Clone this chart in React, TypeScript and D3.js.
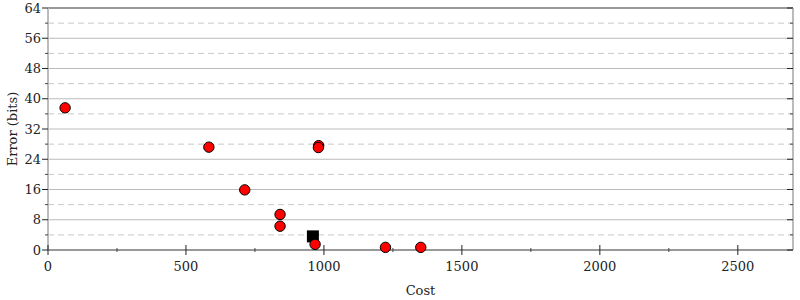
import React, { useEffect } from "react";
import * as d3 from "d3";

const costs = [62, 583, 981, 980, 713, 841, 841, 968, 1223, 1351];
const errors = [37.6, 27.2, 27.6, 27.1, 15.9, 9.4, 6.3, 1.5, 0.7, 0.7];
const bestCost = [960];
const bestError = [3.6];
const xTicks = [0, 500, 1000, 1500, 2000, 2500];
const xMinorTicks = [250, 750, 1250, 1750, 2250];
const yTicks = [0, 8, 16, 24, 32, 40, 48, 56, 64];
const yMinorTicks = [4, 12, 20, 28, 36, 44, 52, 60];
const xLabel = "Cost";
const yLabel = "Error (bits)";

const W = 800, H = 300;
const M = { left: 48, right: 793, top: 8, bottom: 250 };
const FONT = "'DejaVu Serif', serif";

export default function App() {
  useEffect(() => {
    document.body.style.margin = "0";
  }, []);
  const x = d3.scaleLinear().domain([0, 2700]).range([M.left, M.right]);
  const y = d3.scaleLinear().domain([0, 64]).range([M.bottom, M.top]);

  return (
    <svg width={W} height={H} style={{ display: "block" }} fontFamily={FONT}>
      <rect width={W} height={H} fill="#fff" />
      {yMinorTicks.map((t) => (
        <line key={"gm" + t} x1={M.left} x2={M.right} y1={y(t)} y2={y(t)} stroke="#c8c8c8" strokeDasharray="6,4" />
      ))}
      {yTicks.filter((t) => t > 0 && t < 64).map((t) => (
        <line key={"g" + t} x1={M.left} x2={M.right} y1={y(t)} y2={y(t)} stroke="#bbb" />
      ))}
      <line x1={M.left} x2={M.right} y1={y(64)} y2={y(64)} stroke="#999" strokeWidth={2} />
      {/* left & right axis lines */}
      <line x1={M.left} x2={M.left} y1={M.top} y2={M.bottom} stroke="#bbb" strokeWidth={2} />
      <line x1={M.right} x2={M.right} y1={M.top} y2={M.bottom} stroke="#bbb" strokeWidth={2} />
      {/* bottom axis */}
      <line x1={M.left} x2={M.right} y1={M.bottom} y2={M.bottom} stroke="#999" strokeWidth={2} />
      {/* y ticks */}
      {yTicks.map((t) => (
        <g key={"yt" + t}>
          <line x1={M.left - 6} x2={M.left} y1={y(t)} y2={y(t)} stroke="#222" />
          <line x1={M.right - 6} x2={M.right} y1={y(t)} y2={y(t)} stroke="#222" />
          <text x={M.left - 7} y={y(t)} dy="0.35em" textAnchor="end" fontSize={13} fill="#222">{t}</text>
        </g>
      ))}
      {yMinorTicks.map((t) => (
        <g key={"ymt" + t}>
          <line x1={M.left - 3} x2={M.left} y1={y(t)} y2={y(t)} stroke="#444" />
          <line x1={M.right - 3} x2={M.right} y1={y(t)} y2={y(t)} stroke="#444" />
        </g>
      ))}
      {/* x ticks */}
      {xTicks.map((t) => (
        <g key={"xt" + t}>
          <line x1={x(t)} x2={x(t)} y1={M.bottom - 5} y2={M.bottom + 5} stroke="#222" />
          <text x={x(t)} y={M.bottom + 16} dy="0.35em" textAnchor="middle" fontSize={13} fill="#222">{t}</text>
        </g>
      ))}
      {xMinorTicks.map((t) => (
        <line key={"xmt" + t} x1={x(t)} x2={x(t)} y1={M.bottom - 2} y2={M.bottom + 2} stroke="#444" />
      ))}
      {/* labels */}
      <text x={(M.left + M.right) / 2} y={290} dy="0.35em" textAnchor="middle" fontSize={13} fill="#222">{xLabel}</text>
      <text transform={`translate(12,${(M.top + M.bottom) / 2}) rotate(-90)`} dy="0.35em" textAnchor="middle" fontSize={13} fill="#222">{yLabel}</text>
      {/* best marker */}
      {bestCost.map((c, i) => (
        <rect key={"b" + i} x={x(c) - 6} y={y(bestError[i]) - 6} width={12} height={12} fill="#000" />
      ))}
      {/* points */}
      {costs.map((c, i) => (
        <circle key={"p" + i} cx={x(c)} cy={y(errors[i])} r={5.2} fill="#f00" stroke="#000" strokeWidth={1} />
      ))}
    </svg>
  );
}
